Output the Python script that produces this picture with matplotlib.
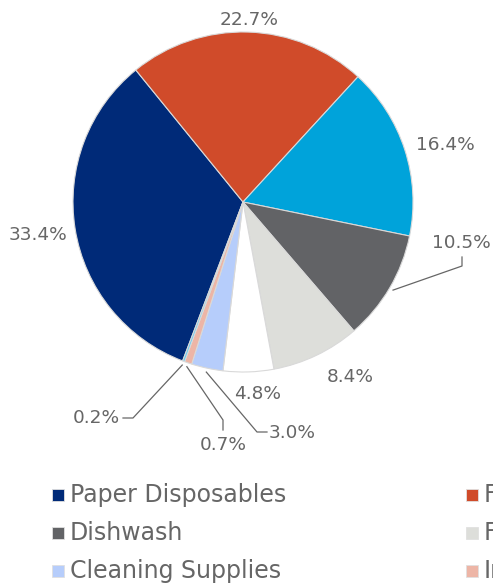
import numpy as np
import matplotlib
matplotlib.use('Agg')
import matplotlib.pyplot as plt
from matplotlib.patches import Rectangle

# data
categories = ['Paper Disposables', 'Food Service', 'Skin Care',
              'Dishwash', 'Floor Care', 'Laundry',
              'Cleaning Supplies', 'Industrial', 'Other']
shares = [33.4, 22.7, 16.4, 10.5, 8.4, 4.8, 3.0, 0.7, 0.2]
colors = ['#002a78', '#d04b2a', '#00a3da', '#626366', '#dddeda',
          '#ffffff', '#b6cdfb', '#edb5a6', '#5fc9f3']

W, H = 493, 583
fig = plt.figure(figsize=(W / 100, H / 100), dpi=100)
ax = fig.add_axes([0, 0, 1, 1])
ax.axis('off')

cx, cy, r = 243, H - 202, 170
start = 90 - 200.8  # navy slice starts lower left, goes clockwise

wedges, _ = ax.pie(shares, colors=colors, startangle=start, counterclock=False,
                   center=(cx, cy), radius=r,
                   wedgeprops=dict(edgecolor='#d9d9d9', linewidth=0.8))
ax.set_xlim(0, W)
ax.set_ylim(0, H)

txt = '#666666'
fs = 13.3

def mid_point(i, rr):
    w = wedges[i]
    a = np.deg2rad((w.theta1 + w.theta2) / 2)
    return cx + rr * np.cos(a), cy + rr * np.sin(a)

# labels placed directly (image coords, y down)
plain = {1: (249, 20), 2: (445, 145), 4: (350, 377), 5: (258, 394), 0: (38, 235)}
for i, (x, y) in plain.items():
    ax.text(x, H - y, f'{shares[i]:.1f}%', color=txt, fontsize=fs,
            ha='center', va='center')

# labels with connector lines: (elbow, end, text pos, ha)
conn = {
    3: ((462, 266), (462, 257), (461, 243), 'center'),
    6: ((257, 432), (267, 432), (269, 433), 'left'),
    7: ((223, 420), (223, 430), (223, 445), 'center'),
    8: ((133, 418), (123, 418), (120, 418), 'right'),
}
for i, (elb, end, tp, ha) in conn.items():
    sx, sy = mid_point(i, r + 4)
    ax.plot([sx, elb[0], end[0]], [sy, H - elb[1], H - end[1]],
            color='#666666', lw=0.9)
    ax.text(tp[0], H - tp[1], f'{shares[i]:.1f}%', color=txt, fontsize=fs,
            ha=ha, va='center')

# legend, 3 columns (third runs off the canvas, like the original)
col_x = [52, 466, 880]
row_y = [495, 533, 571]
for i, name in enumerate(categories):
    x = col_x[i % 3]
    y = row_y[i // 3]
    ax.add_patch(Rectangle((x, H - y - 6), 12, 12, facecolor=colors[i],
                           edgecolor='#e0e0e0', lw=0.6, clip_on=False))
    ax.text(x + 18, H - y, name, color=txt, fontsize=17, va='center', ha='left')

fig.savefig('out.png', dpi=100)
